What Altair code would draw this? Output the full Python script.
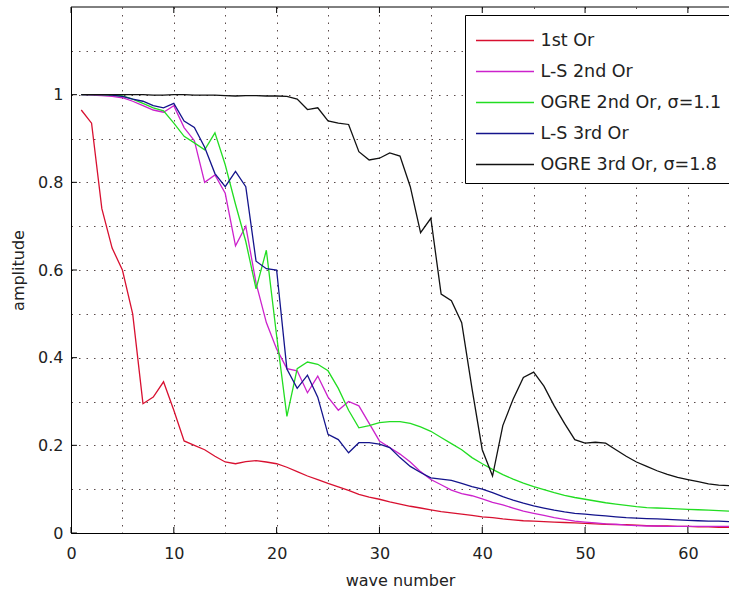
import altair as alt
import pandas as pd

# ---------------- data ----------------
wave = list(range(1, 65))

first_or = [0.965, 0.935, 0.74, 0.65, 0.60, 0.50, 0.295, 0.31, 0.345, 0.28,
            0.21, 0.20, 0.19, 0.175, 0.162, 0.158, 0.163, 0.165, 0.162, 0.158,
            0.15, 0.14, 0.13, 0.122, 0.113, 0.105, 0.097, 0.088, 0.082, 0.077,
            0.071, 0.066, 0.061, 0.057, 0.053, 0.049, 0.046, 0.043, 0.040, 0.037,
            0.035, 0.032, 0.030, 0.028, 0.027, 0.026, 0.025, 0.024, 0.023, 0.022,
            0.021, 0.020, 0.019, 0.019, 0.018, 0.017, 0.016, 0.016, 0.015, 0.015,
            0.014, 0.014, 0.013, 0.013]

ls_2nd = [1.0, 0.999, 0.998, 0.996, 0.993, 0.985, 0.975, 0.965, 0.96, 0.975,
          0.925, 0.895, 0.80, 0.817, 0.775, 0.655, 0.70, 0.57, 0.48, 0.42,
          0.375, 0.37, 0.32, 0.358, 0.31, 0.28, 0.30, 0.29, 0.25, 0.21,
          0.195, 0.18, 0.162, 0.14, 0.122, 0.11, 0.098, 0.09, 0.085, 0.078,
          0.07, 0.064, 0.057, 0.05, 0.045, 0.04, 0.035, 0.031, 0.027, 0.025,
          0.023, 0.021, 0.02, 0.018, 0.017, 0.016, 0.016, 0.015, 0.015, 0.015,
          0.015, 0.015, 0.015, 0.015]

ogre_2nd = [1.0, 1.0, 1.0, 0.999, 0.997, 0.99, 0.98, 0.97, 0.963, 0.935,
            0.905, 0.89, 0.874, 0.913, 0.84, 0.75, 0.665, 0.557, 0.645, 0.45,
            0.266, 0.375, 0.39, 0.385, 0.37, 0.33, 0.28, 0.24, 0.245, 0.252,
            0.254, 0.254, 0.25, 0.242, 0.232, 0.218, 0.204, 0.19, 0.172, 0.158,
            0.145, 0.133, 0.123, 0.114, 0.106, 0.099, 0.092, 0.086, 0.081, 0.077,
            0.073, 0.069, 0.066, 0.063, 0.060, 0.058, 0.057, 0.056, 0.055, 0.054,
            0.053, 0.052, 0.051, 0.050]

ls_3rd = [1.0, 1.0, 1.0, 0.999, 0.996, 0.99, 0.985, 0.975, 0.97, 0.98,
          0.94, 0.925, 0.88, 0.82, 0.79, 0.825, 0.79, 0.62, 0.603, 0.60,
          0.374, 0.33, 0.36, 0.31, 0.225, 0.213, 0.183, 0.206, 0.206, 0.203,
          0.195, 0.172, 0.152, 0.138, 0.126, 0.123, 0.12, 0.113, 0.106, 0.10,
          0.092, 0.083, 0.075, 0.068, 0.062, 0.057, 0.052, 0.048, 0.045, 0.043,
          0.041, 0.039, 0.037, 0.035, 0.034, 0.033, 0.032, 0.031, 0.030, 0.029,
          0.028, 0.027, 0.027, 0.026]

ogre_3rd = [1.0, 1.0, 1.0, 1.0, 1.0, 1.0, 1.0, 0.999, 0.999, 1.0,
            1.0, 0.999, 0.999, 0.999, 0.998, 0.997, 0.998, 0.998, 0.997, 0.997,
            0.996, 0.99, 0.966, 0.97, 0.94, 0.935, 0.932, 0.87, 0.851, 0.855,
            0.867, 0.86, 0.79, 0.685, 0.718, 0.545, 0.53, 0.48, 0.33, 0.19,
            0.13, 0.245, 0.305, 0.355, 0.367, 0.335, 0.29, 0.25, 0.213, 0.205,
            0.207, 0.205, 0.19, 0.175, 0.162, 0.152, 0.142, 0.134, 0.127, 0.122,
            0.117, 0.112, 0.109, 0.108]

series_names = ["1st Or", "L-S 2nd Or", "OGRE 2nd Or, \u03c3=1.1",
                "L-S 3rd Or", "OGRE 3rd Or, \u03c3=1.8"]
series_values = [first_or, ls_2nd, ogre_2nd, ls_3rd, ogre_3rd]
series_colors = ["#d81030", "#cc22cc", "#22dd22", "#14148c", "#111111"]

x_grid_values = list(range(0, 61, 5))
x_tick_values = [0, 10, 20, 30, 40, 50, 60]
y_grid_values = [0, 0.1, 0.2, 0.3, 0.4, 0.5, 0.6, 0.7, 0.8, 0.9, 1.0, 1.1]
y_tick_values = [0, 0.2, 0.4, 0.6, 0.8, 1.0]

X_MAX = 64
Y_MAX = 1.2

# ---------------- tables ----------------
rows = []
for name, vals in zip(series_names, series_values):
    for w, v in zip(wave, vals):
        rows.append({"wave": w, "amp": v, "series": name})
df = pd.DataFrame(rows)

xt_bottom = pd.DataFrame({"x": x_tick_values, "y0": 0.0, "y1": 0.0137})
xt_top = pd.DataFrame({"x": x_tick_values, "y0": Y_MAX, "y1": Y_MAX - 0.0137})
yt_left = pd.DataFrame({"y": y_tick_values, "x0": 0.0, "x1": 0.58})
top_border = pd.DataFrame({"x0": [0], "x1": [X_MAX], "y": [Y_MAX]})

FONT = "DejaVu Sans"
TXT = "#222222"
GRID = "#5a4a4a"

x_scale = alt.Scale(domain=[0, X_MAX], nice=False, zero=False)
y_scale = alt.Scale(domain=[0, Y_MAX], nice=False, zero=False)

x_axis = alt.Axis(
    values=x_grid_values,
    labelExpr="datum.value % 10 == 0 ? datum.label : ''",
    format="~g",
    grid=True, gridDash=[1.5, 6], gridColor=GRID, gridWidth=1,
    ticks=False, tickSize=0,
    domainColor="#000000", domainWidth=1,
    title="wave number", titleFont=FONT, titleFontSize=16, titleFontWeight="normal",
    titleColor=TXT, titlePadding=11,
    labelFont=FONT, labelFontSize=16, labelColor=TXT, labelPadding=12,
    labelFlush=False, labelOverlap=False,
)
y_axis = alt.Axis(
    values=y_grid_values,
    labelExpr="round(datum.value * 10) % 2 == 0 && datum.value < 1.05 ? datum.label : ''",
    format="~g",
    grid=True, gridDash=[1.5, 6], gridColor=GRID, gridWidth=1,
    ticks=False, tickSize=0,
    domainColor="#000000", domainWidth=1,
    title="amplitude", titleFont=FONT, titleFontSize=16, titleFontWeight="normal",
    titleColor=TXT, titlePadding=11,
    labelFont=FONT, labelFontSize=16, labelColor=TXT, labelPadding=8,
    labelFlush=False, labelOverlap=False,
)

# legend line symbol: a horizontal stroke twice as long as the layout size
SYM_R = 29
lines = alt.Chart(df).mark_line(strokeWidth=1.3, clip=True).encode(
    x=alt.X("wave:Q", scale=x_scale, axis=x_axis),
    y=alt.Y("amp:Q", scale=y_scale, axis=y_axis),
    color=alt.Color(
        "series:N",
        scale=alt.Scale(domain=series_names, range=series_colors),
        sort=series_names,
        legend=alt.Legend(
            title=None, orient="none", legendX=394, legendY=8,
            symbolType="M-2,0H2", symbolSize=SYM_R * SYM_R, symbolStrokeWidth=1.3,
            symbolOffset=SYM_R / 2,
            labelFont=FONT, labelFontSize=17.5, labelColor=TXT, labelOffset=20,
            padding=10, rowPadding=7, strokeColor="#000000", fillColor="#ffffff",
            cornerRadius=0, labelLimit=400,
        ),
    ),
)

tick_b = alt.Chart(xt_bottom).mark_rule(color="#000000", strokeWidth=1).encode(
    x=alt.X("x:Q", scale=x_scale), y=alt.Y("y0:Q", scale=y_scale), y2="y1:Q")
tick_t = alt.Chart(xt_top).mark_rule(color="#000000", strokeWidth=1).encode(
    x=alt.X("x:Q", scale=x_scale), y=alt.Y("y0:Q", scale=y_scale), y2="y1:Q")
tick_l = alt.Chart(yt_left).mark_rule(color="#000000", strokeWidth=1).encode(
    y=alt.Y("y:Q", scale=y_scale), x=alt.X("x0:Q", scale=x_scale), x2="x1:Q")
border_t = alt.Chart(top_border).mark_rule(color="#000000", strokeWidth=1).encode(
    x=alt.X("x0:Q", scale=x_scale), x2="x1:Q", y=alt.Y("y:Q", scale=y_scale))

chart = alt.layer(lines, tick_b, tick_t, tick_l, border_t).properties(
    width=658, height=526,
    padding={"left": 71, "top": 7, "right": 0, "bottom": 61},
    autosize=alt.AutoSizeParams(type="none"),
    background="#ffffff",
).configure_view(stroke=None)

chart.save("out.html", embed_options={"renderer": "svg", "actions": False})
